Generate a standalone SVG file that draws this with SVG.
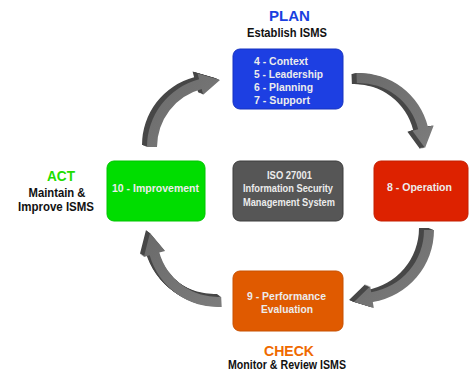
<svg xmlns="http://www.w3.org/2000/svg" xmlns:xlink="http://www.w3.org/1999/xlink" width="475" height="371" viewBox="0 0 475 371">
<style>
.box{stroke-width:1}
.bt{font-family:"Liberation Sans",Arial,sans-serif;font-weight:bold;font-size:11px;fill:#ececec}
.hd{font-family:"Liberation Sans",Arial,sans-serif;font-weight:bold;font-size:15px}
.sub{font-family:"Liberation Sans",Arial,sans-serif;font-weight:bold;font-size:12px;fill:#111}
.ext{fill:#474747}
.face{fill:url(#faceGrad)}
</style>
<defs>
<linearGradient id="faceGrad" x1="0" y1="0" x2="1" y2="1">
<stop offset="0" stop-color="#6a6a6a"/>
<stop offset="1" stop-color="#7c7c7c"/>
</linearGradient>
<path id="aTL" d="M147,147 A70,70 0 0 1 199.1,79.3 L197.6,73.5 L220,80 L203.2,94.8 L201.7,89 A60,60 0 0 0 157,147 Z"/>
<path id="aTR" d="M356.5,73 A71,71 0 0 1 427.9,126.8 L433.7,125.4 L425,148 L412.4,130.7 L418.2,129.2 A61,61 0 0 0 356.9,83 Z"/>
<path id="aBR" d="M434,230 A73,73 0 0 1 372.8,302 L373.8,308 L354,302 L370.2,286.3 L371.2,292.2 A63,63 0 0 0 424,230 Z"/>
<path id="aBL" d="M221.7,306.9 A71,71 0 0 1 149.7,255.3 L143.9,257 L150,233 L165.1,251 L159.3,252.6 A61,61 0 0 0 221.2,296.9 Z"/>
</defs>

<g id="connectors">
<g id="arrow-plan-do">
<use xlink:href="#aTR" href="#aTR" class="ext" transform="translate(-5,1)"/>
<use xlink:href="#aTR" href="#aTR" class="ext" transform="translate(-4,0.8)"/>
<use xlink:href="#aTR" href="#aTR" class="ext" transform="translate(-3,0.6)"/>
<use xlink:href="#aTR" href="#aTR" class="ext" transform="translate(-2,0.4)"/>
<use xlink:href="#aTR" href="#aTR" class="ext" transform="translate(-1,0.2)"/>
<use xlink:href="#aTR" href="#aTR" class="face"/>
</g>
<g id="arrow-do-check">
<use xlink:href="#aBR" href="#aBR" class="ext" transform="translate(-5,-2)"/>
<use xlink:href="#aBR" href="#aBR" class="ext" transform="translate(-4,-1.6)"/>
<use xlink:href="#aBR" href="#aBR" class="ext" transform="translate(-3,-1.2)"/>
<use xlink:href="#aBR" href="#aBR" class="ext" transform="translate(-2,-0.8)"/>
<use xlink:href="#aBR" href="#aBR" class="ext" transform="translate(-1,-0.4)"/>
<use xlink:href="#aBR" href="#aBR" class="face"/>
</g>
<g id="arrow-check-act">
<use xlink:href="#aBL" href="#aBL" class="ext" transform="translate(-4,-3)"/>
<use xlink:href="#aBL" href="#aBL" class="ext" transform="translate(-3.2,-2.4)"/>
<use xlink:href="#aBL" href="#aBL" class="ext" transform="translate(-2.4,-1.8)"/>
<use xlink:href="#aBL" href="#aBL" class="ext" transform="translate(-1.6,-1.2)"/>
<use xlink:href="#aBL" href="#aBL" class="ext" transform="translate(-0.8,-0.6)"/>
<use xlink:href="#aBL" href="#aBL" class="face"/>
</g>
<g id="arrow-act-plan">
<use xlink:href="#aTL" href="#aTL" class="ext" transform="translate(-5,-2)"/>
<use xlink:href="#aTL" href="#aTL" class="ext" transform="translate(-4,-1.6)"/>
<use xlink:href="#aTL" href="#aTL" class="ext" transform="translate(-3,-1.2)"/>
<use xlink:href="#aTL" href="#aTL" class="ext" transform="translate(-2,-0.8)"/>
<use xlink:href="#aTL" href="#aTL" class="ext" transform="translate(-1,-0.4)"/>
<use xlink:href="#aTL" href="#aTL" class="face"/>
</g>
</g>

<g id="plan">
<text class="hd" x="289.5" y="21" text-anchor="middle" fill="#1a3fe0" textLength="41" lengthAdjust="spacingAndGlyphs">PLAN</text>
<text class="sub" x="287" y="37" text-anchor="middle" textLength="80" lengthAdjust="spacingAndGlyphs">Establish ISMS</text>
<rect class="box" x="233" y="49" width="110" height="60" rx="7" fill="#1d3fe2" stroke="#1733c0"/>
<text class="bt" x="254" y="64.5" textLength="54" lengthAdjust="spacingAndGlyphs">4 - Context</text>
<text class="bt" x="254" y="77.5" textLength="69" lengthAdjust="spacingAndGlyphs">5 - Leadership</text>
<text class="bt" x="254" y="90.5" textLength="59" lengthAdjust="spacingAndGlyphs">6 - Planning</text>
<text class="bt" x="254" y="103.5" textLength="56" lengthAdjust="spacingAndGlyphs">7 - Support</text>
</g>

<g id="act">
<text class="hd" x="61" y="181" text-anchor="middle" fill="#22dd00" textLength="28" lengthAdjust="spacingAndGlyphs">ACT</text>
<text class="sub" x="57" y="197" text-anchor="middle" textLength="57" lengthAdjust="spacingAndGlyphs">Maintain &amp;</text>
<text class="sub" x="56" y="211" text-anchor="middle" textLength="76" lengthAdjust="spacingAndGlyphs">Improve ISMS</text>
</g>

<g id="improvement">
<rect class="box" x="107" y="161" width="98" height="60" rx="7" fill="#00dd00" stroke="#00c400"/>
<text class="bt" x="155.5" y="191.5" text-anchor="middle" textLength="87" lengthAdjust="spacingAndGlyphs">10 - Improvement</text>
</g>

<g id="isms">
<rect class="box" x="233" y="161" width="110" height="60" rx="7" fill="#565656" stroke="#3c3c3c"/>
<text class="bt" x="289.5" y="178.5" text-anchor="middle" textLength="45" lengthAdjust="spacingAndGlyphs">ISO 27001</text>
<text class="bt" x="288" y="191.7" text-anchor="middle" textLength="90" lengthAdjust="spacingAndGlyphs">Information Security</text>
<text class="bt" x="289" y="205.5" text-anchor="middle" textLength="92" lengthAdjust="spacingAndGlyphs">Management System</text>
</g>

<g id="operation">
<rect class="box" x="374" y="161" width="94" height="60" rx="7" fill="#dd2200" stroke="#c41e00"/>
<text class="bt" x="419.5" y="191" text-anchor="middle" textLength="65" lengthAdjust="spacingAndGlyphs">8 - Operation</text>
</g>

<g id="performance">
<rect class="box" x="233" y="271" width="110" height="60" rx="7" fill="#e05a00" stroke="#c85000"/>
<text class="bt" x="286.5" y="300" text-anchor="middle" textLength="79" lengthAdjust="spacingAndGlyphs">9 - Performance</text>
<text class="bt" x="287" y="313" text-anchor="middle" textLength="52" lengthAdjust="spacingAndGlyphs">Evaluation</text>
</g>

<g id="check">
<text class="hd" x="289" y="355.5" text-anchor="middle" fill="#ef6a00" textLength="50" lengthAdjust="spacingAndGlyphs">CHECK</text>
<text class="sub" x="287" y="369" text-anchor="middle" font-size="11.5" textLength="118" lengthAdjust="spacingAndGlyphs">Monitor &amp; Review ISMS</text>
</g>
</svg>
